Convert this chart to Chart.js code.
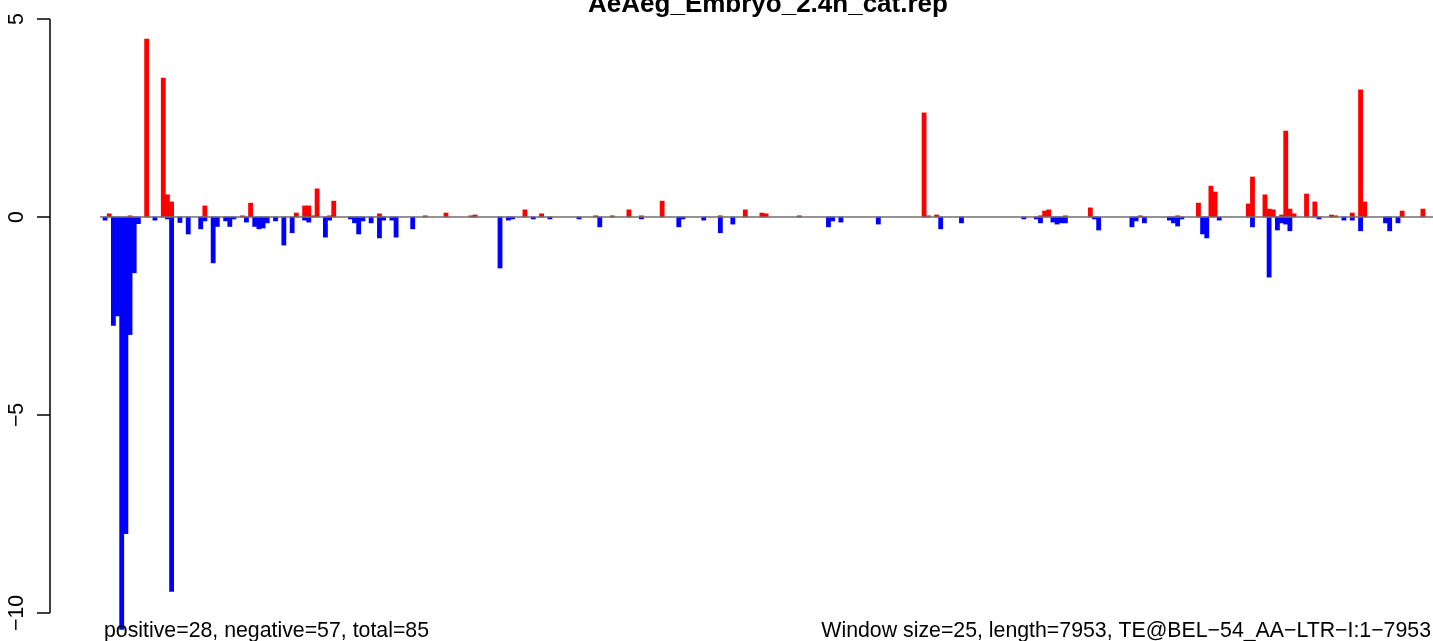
<!DOCTYPE html>
<html>
<head>
<meta charset="utf-8">
<title>AeAeg_Embryo_2.4h_cat.rep</title>
<script src="https://cdn.jsdelivr.net/npm/chart.js@4/dist/chart.umd.min.js"></script>
<style>
html, body { margin: 0; padding: 0; background: #fff; overflow: hidden; }
#wrap { width: 1433px; height: 641px; }
</style>
</head>
<body>
<div id="wrap"><canvas id="repChart" width="1433" height="641"></canvas></div>
<script>
/* values per 25 bp window (window index, value) */
const titleText = 'AeAeg_Embryo_2.4h_cat.rep';
const leftNote = 'positive=28, negative=57, total=85';
const rightNote = 'Window size=25, length=7953, TE@BEL\u221254_AA\u2212LTR\u2212I:1\u22127953';
const windowCount = 318;

const posWindows = [1, 6, 10, 14, 15, 16, 24, 33, 35, 46, 48, 49, 50, 51, 54, 55, 66, 77, 82, 88,
  89, 101, 105, 118, 122, 126, 129, 134, 148, 154, 158, 159, 167, 197, 198, 200, 225, 226, 227, 231,
  237, 249, 258, 263, 266, 267, 275, 276, 279, 280, 281, 283, 284, 285, 286, 289, 291, 295, 296, 300,
  302, 303, 312, 317];
const posValues = [0.08, 0.03, 4.49, 3.51, 0.56, 0.38, 0.28, 0.03, 0.35, 0.10, 0.28, 0.28, 0.03, 0.71, 0.03, 0.40, 0.08, 0.03, 0.10, 0.03,
  0.05, 0.18, 0.08, 0.03, 0.03, 0.18, 0.03, 0.40, 0.03, 0.18, 0.10, 0.08, 0.03, 2.63, 0.03, 0.05, 0.03, 0.15, 0.18, 0.03,
  0.23, 0.03, 0.03, 0.35, 0.78, 0.63, 0.33, 1.01, 0.56, 0.20, 0.18, 0.05, 2.17, 0.20, 0.08, 0.58, 0.38, 0.05, 0.03, 0.10,
  3.21, 0.38, 0.15, 0.20];

const negWindows = [0, 2, 3, 4, 5, 6, 7, 8, 12, 15, 16, 18, 20, 23, 24, 26, 27, 29, 30, 31,
  34, 36, 37, 38, 39, 41, 43, 45, 48, 49, 53, 54, 59, 60, 61, 62, 64, 66, 67, 69,
  70, 74, 95, 97, 98, 103, 107, 114, 119, 129, 138, 139, 144, 148, 151, 174, 175, 177, 186, 201,
  206, 221, 224, 225, 228, 229, 230, 231, 238, 239, 247, 248, 250, 256, 257, 258, 259, 264, 265, 268,
  276, 280, 282, 283, 284, 285, 292, 298, 300, 302, 308, 309, 311];
const negValues = [-0.08, -2.74, -2.50, -10.42, -8.00, -2.97, -1.41, -0.17, -0.08, -0.05, -9.46, -0.14, -0.43, -0.30, -0.10, -1.16, -0.24, -0.10, -0.24, -0.05,
  -0.13, -0.24, -0.30, -0.28, -0.15, -0.10, -0.71, -0.40, -0.08, -0.13, -0.51, -0.08, -0.05, -0.15, -0.43, -0.10, -0.15, -0.53, -0.08, -0.08,
  -0.51, -0.30, -1.29, -0.08, -0.05, -0.05, -0.05, -0.05, -0.25, -0.05, -0.25, -0.05, -0.08, -0.40, -0.18, -0.25, -0.10, -0.13, -0.18, -0.30,
  -0.15, -0.05, -0.05, -0.15, -0.13, -0.18, -0.15, -0.15, -0.05, -0.33, -0.25, -0.10, -0.15, -0.08, -0.15, -0.23, -0.05, -0.43, -0.53, -0.08,
  -0.25, -1.52, -0.33, -0.15, -0.18, -0.35, -0.05, -0.08, -0.08, -0.35, -0.15, -0.35, -0.15];

const yTicks = [5, 0, -5, -10];

const toPoints = (xs, vs) => xs.map((x, i) => ({ x: x, y: vs[i] }));
const minusLabel = v => String(v).replace('-', '\u2212');

// R-style axis, zero line and texts
const rDecor = {
    id: 'rDecor',
    afterDatasetsDraw(chart) {
        const ctx = chart.ctx;
        const xs = chart.scales.x, ys = chart.scales.y;
        const y0 = ys.getPixelForValue(0);
        ctx.save();

        ctx.strokeStyle = '#6f6f6f';
        ctx.lineWidth = 1.5;
        ctx.beginPath();
        ctx.moveTo(xs.getPixelForValue(-1.2), y0);
        ctx.lineTo(chart.width, y0);
        ctx.stroke();

        const ax = chart.chartArea.left;
        ctx.strokeStyle = '#000';
        ctx.lineWidth = 1.5;
        ctx.beginPath();
        ctx.moveTo(ax, ys.getPixelForValue(yTicks[0]));
        ctx.lineTo(ax, ys.getPixelForValue(yTicks[yTicks.length - 1]));
        yTicks.forEach(t => {
            const py = ys.getPixelForValue(t);
            ctx.moveTo(ax, py);
            ctx.lineTo(ax - 13, py);
        });
        ctx.stroke();

        ctx.fillStyle = '#000';
        ctx.font = '21.3px "Liberation Sans", Arial, sans-serif';
        ctx.textAlign = 'center';
        ctx.textBaseline = 'alphabetic';
        yTicks.forEach(t => {
            ctx.save();
            ctx.translate(23, ys.getPixelForValue(t));
            ctx.rotate(-Math.PI / 2);
            ctx.fillText(minusLabel(t), 0, 0);
            ctx.restore();
        });

        ctx.textAlign = 'left';
        ctx.fillText(leftNote, 104, 637);
        ctx.textAlign = 'right';
        ctx.fillText(rightNote, 1431, 637);

        ctx.font = 'bold 26px "Liberation Sans", Arial, sans-serif';
        ctx.textAlign = 'center';
        ctx.fillText(titleText, 768, 12);
        ctx.restore();
    }
};

new Chart(document.getElementById('repChart').getContext('2d'), {
    type: 'bar',
    data: {
        datasets: [
            { label: 'positive', data: toPoints(posWindows, posValues), backgroundColor: '#ff0000', borderWidth: 0, grouped: false, barPercentage: 1, categoryPercentage: 1 },
            { label: 'negative', data: toPoints(negWindows, negValues), backgroundColor: '#0000ff', borderWidth: 0, grouped: false, barPercentage: 1, categoryPercentage: 1 }
        ]
    },
    options: {
        responsive: false,
        devicePixelRatio: 1,
        animation: false,
        events: [],
        layout: { padding: { left: 50, right: 0, top: 0, bottom: 0 } },
        plugins: { legend: { display: false }, tooltip: { enabled: false }, title: { display: false } },
        scales: {
            x: { type: 'linear', display: false, offset: false, min: -13.25, max: -13.25 + 1383 / 1322 * windowCount, ticks: { stepSize: 50 } },
            y: { display: false, min: -10.71, max: 5.48 }
        }
    },
    plugins: [rDecor]
});
</script>
</body>
</html>
